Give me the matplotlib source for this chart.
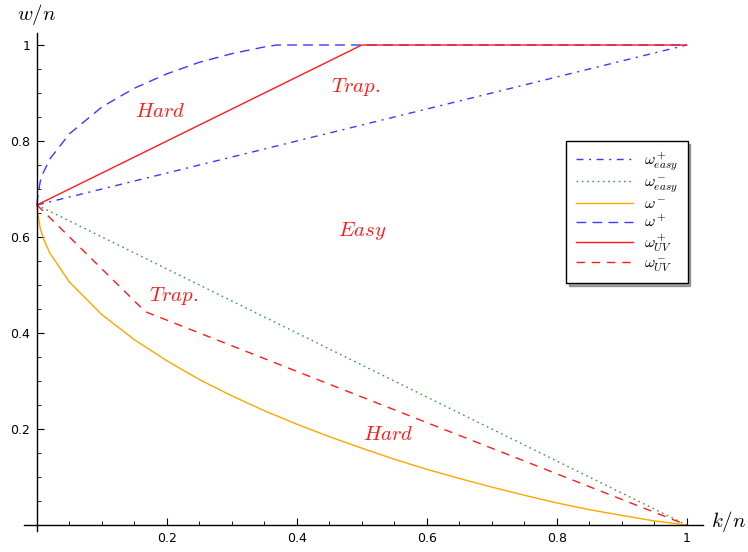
import numpy as np
import matplotlib
matplotlib.use("Agg")
import matplotlib.pyplot as plt
from matplotlib.ticker import FixedLocator

plt.rcParams['mathtext.fontset'] = 'cm'

# values (k/n, w/n)
easy_plus_x = [0, 1]
easy_plus_y = [2/3, 1]

easy_minus_x = [0, 1]
easy_minus_y = [2/3, 0]

w_minus_x = [0, 0.001, 0.005, 0.01, 0.02, 0.05, 0.10, 0.15, 0.20, 0.25,
             0.30, 0.35, 0.40, 0.45, 0.50, 0.55, 0.60, 0.65, 0.70, 0.75,
             0.80, 0.85, 0.90, 0.95, 1.0]
w_minus_y = [0.667, 0.651, 0.618, 0.596, 0.566, 0.506, 0.438, 0.386, 0.342,
             0.303, 0.269, 0.238, 0.210, 0.184, 0.160, 0.137, 0.116, 0.097,
             0.079, 0.062, 0.046, 0.032, 0.020, 0.0085, 0.0]

w_plus_x = [0, 0.001, 0.005, 0.01, 0.02, 0.05, 0.10, 0.15, 0.20, 0.25,
            0.30, 0.35, 0.369, 1.0]
w_plus_y = [0.667, 0.682, 0.716, 0.735, 0.763, 0.815, 0.871, 0.910, 0.940,
            0.964, 0.982, 0.996, 1.0, 1.0]

uv_plus_x = [0, 0.5, 1]
uv_plus_y = [2/3, 1, 1]

uv_minus_x = [0, 1/6, 1]
uv_minus_y = [2/3, 4/9, 0]

region_labels = ["Hard", "Trap.", "Easy", "Trap.", "Hard"]
region_x = [0.19, 0.49, 0.50, 0.21, 0.54]
region_y = [0.862, 0.912, 0.612, 0.477, 0.19]

tick_vals = [0.2, 0.4, 0.6, 0.8, 1.0]
tick_text = ["0.2", "0.4", "0.6", "0.8", "1"]
minor_vals = [0.05, 0.1, 0.15, 0.25, 0.3, 0.35, 0.45, 0.5, 0.55,
              0.65, 0.7, 0.75, 0.85, 0.9, 0.95]

fig = plt.figure(figsize=(7.48, 5.52), dpi=100)
ax = fig.add_axes([24/748, 21/552, 690/748, 498/552])
ax.set_xlim(-0.02, 1.042)
ax.set_ylim(-0.0125, 1.025)

blue = "#3a3aff"
red = "#ff1a1a"
lw = 1.0

ax.plot(easy_plus_x, easy_plus_y, color=blue, lw=lw, dashes=(5, 4, 1.5, 4),
        label=r"$\omega^+_{easy}$")
ax.plot(easy_minus_x, easy_minus_y, color="#3c9a3c", lw=lw, dashes=(1.2, 2.6),
        label=r"$\omega^-_{easy}$")
ax.plot(w_minus_x, w_minus_y, color="#ffa500", lw=lw, label=r"$\omega^-$")
ax.plot(w_plus_x, w_plus_y, color=blue, lw=lw, dashes=(7, 4.5),
        label=r"$\omega^+$")
ax.plot(uv_plus_x, uv_plus_y, color=red, lw=lw, label=r"$\omega^+_{UV}$")
ax.plot(uv_minus_x, uv_minus_y, color=red, lw=lw, dashes=(6, 5),
        label=r"$\omega^-_{UV}$")

for txt, tx, ty in zip(region_labels, region_x, region_y):
    ax.text(tx, ty, r"$\mathit{" + txt + "}$", color=red, fontsize=15,
            ha="center", va="center")

# axes through the origin, Mathematica style
for s in ["top", "right"]:
    ax.spines[s].set_visible(False)
ax.spines["left"].set_position(("data", 0))
ax.spines["bottom"].set_position(("data", 0))
ax.spines["bottom"].set_bounds(-0.02, 1.025)
ax.spines["left"].set_bounds(-0.0125, 1.025)
for s in ["left", "bottom"]:
    ax.spines[s].set_linewidth(1.0)

ax.set_xticks(tick_vals)
ax.set_xticklabels(tick_text)
ax.set_yticks(tick_vals)
ax.set_yticklabels(tick_text)
ax.xaxis.set_minor_locator(FixedLocator(minor_vals))
ax.yaxis.set_minor_locator(FixedLocator(minor_vals))
ax.tick_params(which="major", direction="in", length=5, width=0.8,
               labelsize=9, pad=5)
ax.tick_params(which="minor", direction="in", length=3, width=0.6)

ax.text(1.064, 0.008, r"$k/n$", fontsize=15, ha="center", va="center",
        clip_on=False)
ax.text(0.0, 1.063, r"$w/n$", fontsize=15, ha="center", va="center",
        clip_on=False)

leg = ax.legend(loc="upper left", bbox_to_anchor=(566/748, 1 - 141/552),
                bbox_transform=fig.transFigure, borderaxespad=0,
                fancybox=False, shadow=True, framealpha=1, edgecolor="black",
                fontsize=11.5, handlelength=3.6, labelspacing=0.12,
                borderpad=0.6, handletextpad=0.7)
leg.get_frame().set_linewidth(1.0)

fig.savefig("out.png", dpi=100)
